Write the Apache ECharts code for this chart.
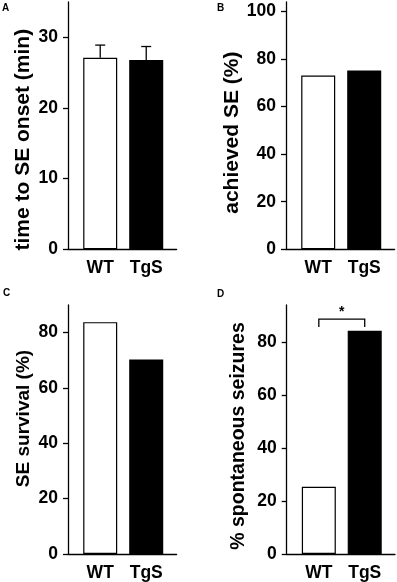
<!DOCTYPE html>
<html>
<head>
<meta charset="utf-8">
<script src="https://cdn.jsdelivr.net/npm/echarts@6/dist/echarts.min.js"></script>
<style>
  html, body { margin: 0; padding: 0; background: #fff; }
  #chart { width: 397px; height: 582px; }
</style>
</head>
<body>
<div id="chart"></div>
<script>
// groups
const categories = ['WT', 'TgS'];
const barColors = ['#ffffff', '#000000'];

// A: time to SE onset (min), mean and SEM
const onsetTime = [27.1, 26.8];
const onsetSem = [1.8, 1.9];
// B: achieved SE (%)
const achievedSE = [73.1, 75.2];
// C: SE survival (%)
const seSurvival = [83.8, 70.3];
// D: % spontaneous seizures
const spontaneous = [25.4, 84.3];

// significance bracket in D: groups compared, leg bottom, bracket top, star height
const sigPair = [0, 1];
const sigLeg = 85.7;
const sigTop = 88.7;
const sigStar = 91.2;

// tick labels
const ticksA = [0, 10, 20, 30];
const ticksB = [0, 20, 40, 60, 80, 100];
const ticksC = [0, 20, 40, 60, 80];
const ticksD = [0, 20, 40, 60, 80];

const FONT = '"Liberation Sans", Arial, sans-serif';
const LW = 1.3;

const chart = echarts.init(document.getElementById('chart'));

function xAxisFor(gridIndex) {
  return {
    type: 'value',
    gridIndex: gridIndex,
    min: -0.7,
    max: 1.66,
    axisLine: { onZero: false, lineStyle: { color: '#000', width: LW } },
    axisTick: { show: false },
    splitLine: { show: false },
    axisLabel: {
      customValues: [0, 1],
      formatter: v => categories[v],
      color: '#000',
      fontFamily: FONT,
      fontWeight: 'bold',
      fontSize: 17.5,
      margin: 10
    }
  };
}

// pad shifts the rotated title along the axis (right pad moves it down)
function yAxisFor(gridIndex, max, ticks, name, gap, size, pad) {
  return {
    type: 'value',
    gridIndex: gridIndex,
    min: 0,
    max: max,
    name: name,
    nameLocation: 'middle',
    nameGap: gap,
    nameTextStyle: { color: '#000', fontFamily: FONT, fontWeight: 'bold', fontSize: size, padding: pad },
    axisLine: { show: true, onZero: false, lineStyle: { color: '#000', width: LW } },
    axisTick: { show: true, customValues: ticks, length: 5, lineStyle: { color: '#000', width: LW } },
    splitLine: { show: false },
    axisLabel: {
      customValues: ticks,
      color: '#000',
      fontFamily: FONT,
      fontWeight: 'bold',
      fontSize: 17.5,
      margin: 10
    }
  };
}

function barSeries(idx, values) {
  return {
    type: 'bar',
    xAxisIndex: idx,
    yAxisIndex: idx,
    barWidth: 34,
    data: values.map((v, i) => ({
      value: [i, v],
      itemStyle: { color: barColors[i], borderColor: '#000', borderWidth: 1.2 }
    })),
    emphasis: { disabled: true },
    animation: false
  };
}

const option = {
  animation: false,
  grid: [
    { left: 68, top: 2, width: 108.6, height: 247.3 },
    { left: 286, top: 2, width: 108.6, height: 247.3 },
    { left: 68, top: 305, width: 108.6, height: 249.3 },
    { left: 286.7, top: 305, width: 108.3, height: 249.3 }
  ],
  xAxis: [xAxisFor(0), xAxisFor(1), xAxisFor(2), xAxisFor(3)],
  yAxis: [
    yAxisFor(0, 35, ticksA, 'time to SE onset (min)', 34, 21, [0, 28, 0, 0]),
    yAxisFor(1, 104, ticksB, 'achieved SE (%)', 38, 21, [0, 14, 0, 0]),
    yAxisFor(2, 90, ticksC, 'SE survival (%)', 35, 19, [0, 0, 0, 22]),
    yAxisFor(3, 94, ticksD, '% spontaneous seizures', 38, 19.5, [0, 13, 0, 0])
  ],
  series: [
    barSeries(0, onsetTime),
    barSeries(1, achievedSE),
    barSeries(2, seSurvival),
    barSeries(3, spontaneous),
    {
      // upper error bars for A
      type: 'custom',
      xAxisIndex: 0,
      yAxisIndex: 0,
      data: onsetTime.map((v, i) => [i, v, v + onsetSem[i]]),
      renderItem: function (params, api) {
        const base = api.coord([api.value(0), api.value(1)]);
        const top = api.coord([api.value(0), api.value(2)]);
        const style = { stroke: '#000', lineWidth: LW, fill: null };
        return {
          type: 'group',
          children: [
            { type: 'line', shape: { x1: base[0], y1: base[1], x2: top[0], y2: top[1] }, style: style },
            { type: 'line', shape: { x1: top[0] - 5, y1: top[1], x2: top[0] + 5, y2: top[1] }, style: style }
          ]
        };
      },
      z: 1,
      silent: true
    },
    {
      // significance bracket for D
      type: 'custom',
      xAxisIndex: 3,
      yAxisIndex: 3,
      data: [[sigPair[0], sigPair[1], sigLeg, sigTop, sigStar]],
      renderItem: function (params, api) {
        const a = api.value(0), b = api.value(1);
        const p1 = api.coord([a, api.value(2)]);
        const p2 = api.coord([a, api.value(3)]);
        const p3 = api.coord([b, api.value(3)]);
        const p4 = api.coord([b, api.value(2)]);
        const s = api.coord([(a + b) / 2, api.value(4)]);
        return {
          type: 'group',
          children: [
            {
              type: 'polyline',
              shape: { points: [p1, p2, p3, p4] },
              style: { stroke: '#000', lineWidth: LW, fill: null }
            },
            {
              type: 'text',
              x: s[0],
              y: s[1],
              style: { text: '*', fill: '#000', font: 'bold 14px ' + FONT, align: 'center', verticalAlign: 'middle' }
            }
          ]
        };
      },
      silent: true
    }
  ],
  graphic: [
    { type: 'text', left: 2, top: 3, style: { text: 'A', font: 'bold 10px ' + FONT, fill: '#000' } },
    { type: 'text', left: 217, top: 3, style: { text: 'B', font: 'bold 10px ' + FONT, fill: '#000' } },
    { type: 'text', left: 3, top: 288, style: { text: 'C', font: 'bold 10px ' + FONT, fill: '#000' } },
    { type: 'text', left: 217, top: 289, style: { text: 'D', font: 'bold 10px ' + FONT, fill: '#000' } }
  ]
};

chart.setOption(option);
</script>
</body>
</html>
